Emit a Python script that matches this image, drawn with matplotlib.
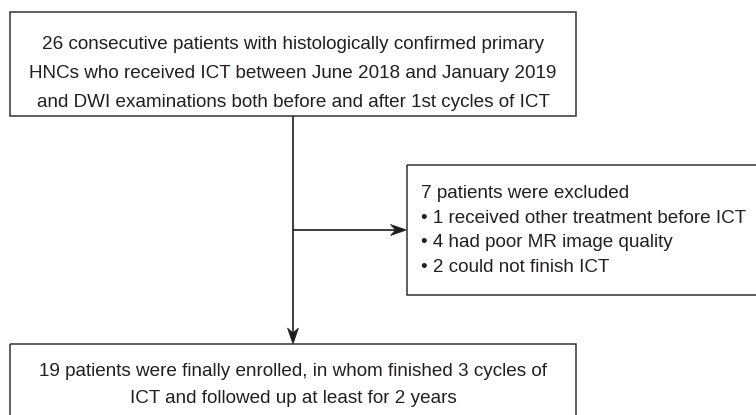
import matplotlib
matplotlib.use("Agg")
import matplotlib.pyplot as plt
from matplotlib.patches import Rectangle, Polygon

plt.rcParams['font.family'] = ['Liberation Sans', 'DejaVu Sans']

top_lines = [
    "26 consecutive patients with histologically confirmed primary",
    "HNCs who received ICT between June 2018 and January 2019",
    "and DWI examinations both before and after 1st cycles of ICT",
]
excl_lines = [
    "7 patients were excluded",
    "\u2022 1 received other treatment before ICT",
    "\u2022 4 had poor MR image quality",
    "\u2022 2 could not finish ICT",
]
bottom_lines = [
    "19 patients were finally enrolled, in whom finished 3 cycles of",
    "ICT and followed up at least for 2 years",
]

W, H = 756, 415
fig = plt.figure(figsize=(W / 100, H / 100), dpi=100)
ax = fig.add_axes([0, 0, 1, 1])
ax.set_xlim(0, W)
ax.set_ylim(H, 0)
ax.axis('off')

edge = '#333333'
tcol = '#231f20'
acol = '#1e1e1e'
fs = 13.6

# boxes
ax.add_patch(Rectangle((10, 12), 566, 104, fill=False, ec=edge, lw=1.1))
ax.add_patch(Rectangle((406.5, 165), 360, 130, fill=False, ec=edge, lw=1.1))
ax.add_patch(Rectangle((10, 344), 566, 100, fill=False, ec=edge, lw=1.1))

cx = 293
for i, t in enumerate(top_lines):
    ax.text(cx, 44.5 + i * 29.2, t, ha='center', va='center', fontsize=fs, color=tcol)
for i, t in enumerate(excl_lines):
    ax.text(421, 193.5 + i * 24.6, t, ha='left', va='center', fontsize=fs, color=tcol)
for i, t in enumerate(bottom_lines):
    ax.text(cx, 371 + i * 27, t, ha='center', va='center', fontsize=fs, color=tcol)


def head(tip, direction, L=16, Wd=11, notch=5):
    x, y = tip
    if direction == 'down':
        pts = [(x, y), (x - Wd / 2, y - L), (x, y - L + notch), (x + Wd / 2, y - L)]
    else:
        pts = [(x, y), (x - L, y - Wd / 2), (x - L + notch, y), (x - L, y + Wd / 2)]
    ax.add_patch(Polygon(pts, closed=True, fc=acol, ec=acol, lw=0.5))


# connectors
ax.plot([cx, cx], [116, 334], color=acol, lw=1.2, solid_capstyle='butt')
head((cx, 344), 'down')
ax.plot([cx, 398], [230, 230], color=acol, lw=1.2, solid_capstyle='butt')
head((406.5, 230), 'right')

fig.savefig('out.png', dpi=100)
